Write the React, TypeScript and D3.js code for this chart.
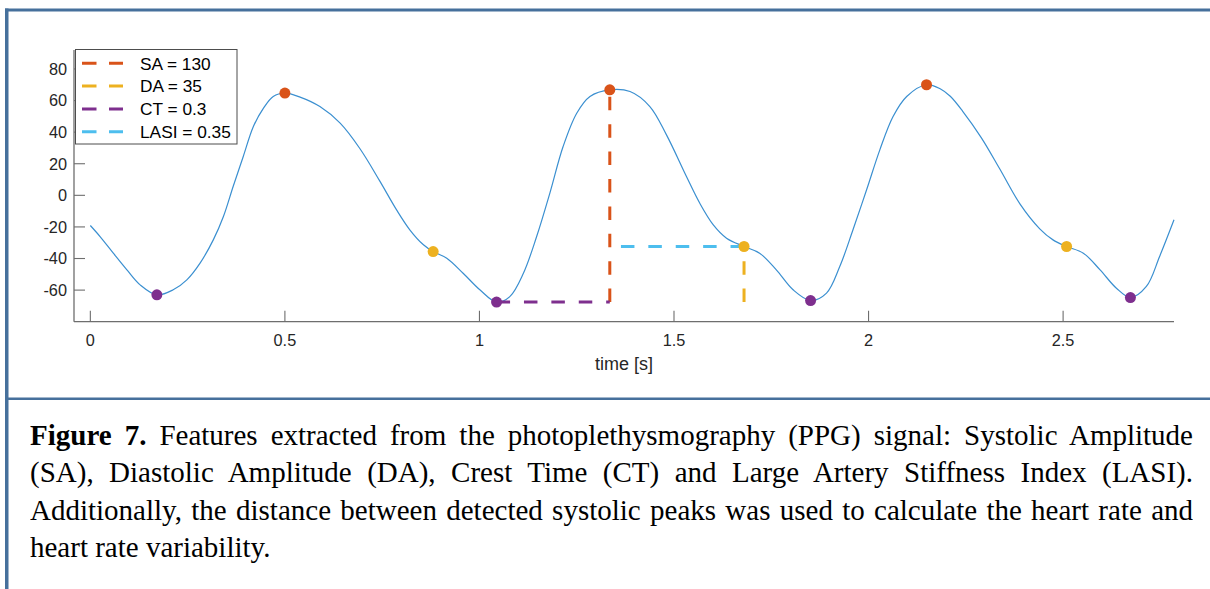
import React from 'react';
import * as d3 from 'd3';

// PPG trace (time in s, amplitude in a.u.)
const timeS = [
  0, 0.025, 0.059, 0.094, 0.128, 0.171, 0.213, 0.248, 0.282, 0.316, 0.342, 0.367, 0.393, 0.419,
  0.445, 0.47, 0.5, 0.539, 0.59, 0.642, 0.693, 0.744, 0.787, 0.821, 0.856, 0.881, 0.916, 0.958,
  1.001, 1.044, 1.078, 1.113, 1.147, 1.181, 1.215, 1.25, 1.284, 1.335, 1.387, 1.438, 1.481,
  1.532, 1.566, 1.601, 1.635, 1.68, 1.72, 1.763, 1.806, 1.851, 1.892, 1.926, 1.96, 1.995, 2.029,
  2.063, 2.098, 2.149, 2.185, 2.21, 2.242, 2.29, 2.337, 2.389, 2.44, 2.474, 2.509, 2.552, 2.595,
  2.637, 2.673, 2.714, 2.748, 2.785,
];
const ppg = [
  -19.1, -26.1, -36.6, -47.2, -56.7, -63.0, -59.8, -53.5, -42.9, -28.2, -13.4, 5.6, 24.6, 43.6,
  55.2, 62.6, 64.7, 62.2, 56.2, 45.7, 29.5, 9.0, -9.2, -21.8, -31.3, -35.6, -39.8, -49.3,
  -59.8, -67.6, -64.1, -49.3, -26.1, 1.4, 30.9, 52.0, 62.6, 66.8, 65.7, 56.2, 38.1,
  11.9, -4.9, -18.7, -27.1, -32.4, -36.6, -47.2, -59.8, -66.6, -61.9, -45.1, -21.8, 3.5, 28.8,
  49.9, 62.6, 70.0, 67.3, 62.7, 53.2, 36.4, 16.8, -5.4, -21.2, -28.2, -32.4, -36.6, -47.2,
  -58.8, -64.7, -57.7, -38.7, -15.5,
];

// Detected fiducial points
const peakT = [0.5, 1.335, 2.149];
const peakV = [64.7, 66.8, 70.0];
const diastolicT = [0.881, 1.68, 2.509];
const diastolicV = [-35.6, -32.4, -32.4];
const footT = [0.171, 1.044, 1.851, 2.673];
const footV = [-63.0, -67.6, -66.6, -64.7];

// Beat used to illustrate the features
const featureBeat = 1;

const xTicks = [0, 0.5, 1, 1.5, 2, 2.5];
const xTickLabels = ['0', '0.5', '1', '1.5', '2', '2.5'];
const yTicks = [-60, -40, -20, 0, 20, 40, 60, 80];
const yTickLabels = ['-60', '-40', '-20', '0', '20', '40', '60', '80'];
const legendLabels = ['SA = 130', 'DA = 35', 'CT = 0.3', 'LASI = 0.35'];
const xLabel = 'time [s]';

const captionLead = 'Figure 7.';
const captionLines = [
  ' Features extracted from the photoplethysmography (PPG) signal: Systolic Amplitude',
  '(SA), Diastolic Amplitude (DA), Crest Time (CT) and Large Artery Stiffness Index (LASI).',
  'Additionally, the distance between detected systolic peaks was used to calculate the heart rate and',
  'heart rate variability.',
];

const COL = {
  sa: '#D95319',
  da: '#EDB120',
  ct: '#7E2F8E',
  lasi: '#4DBEEE',
  signal: '#3a8fd0',
  axis: '#6e6e6e',
  text: '#262626',
  frame: '#46709c',
};

const W = 1210;
const H = 589;
const FONT = 'Arial, "Liberation Sans", Helvetica, sans-serif';

export default function App() {
  const x = d3.scaleLinear().domain([-0.042, 2.785]).range([74, 1174]);
  const y = d3.scaleLinear().domain([-80, 92]).range([321.7, 50]);

  const pts: [number, number][] = timeS.map((t, i) => [t, ppg[i]]);
  const line = d3
    .line<[number, number]>()
    .x((d) => x(d[0]))
    .y((d) => y(d[1]))
    .curve(d3.curveCatmullRom.alpha(0.5));

  const b = featureBeat;
  const dash = '13.5 13.9';
  const tickLen = 11;

  const legendColors = [COL.sa, COL.da, COL.ct, COL.lasi];

  return (
    <svg
      width={W}
      height={H}
      style={{ position: 'absolute', left: 0, top: 0, background: '#fff' }}
    >
      <rect x={0} y={0} width={W} height={H} fill="#fff" />
      {/* figure frame */}
      <rect x={5} y={8.5} width={W - 5} height={3} fill={COL.frame} />
      <rect x={5} y={8.5} width={3.5} height={H - 8.5} fill={COL.frame} />
      <rect x={5} y={397.5} width={W - 5} height={2.5} fill={COL.frame} />

      {/* axes */}
      <line x1={74} x2={1174} y1={321.7} y2={321.7} stroke={COL.axis} strokeWidth={1.3} />
      <line x1={74} x2={74} y1={50} y2={321.7} stroke={COL.axis} strokeWidth={1.3} />
      {xTicks.map((t, i) => (
        <g key={'xt' + i}>
          <line
            x1={x(t)}
            x2={x(t)}
            y1={321.7}
            y2={321.7 - tickLen}
            stroke={COL.axis}
            strokeWidth={1.1}
          />
          <text
            x={x(t)}
            y={345.5}
            textAnchor="middle"
            fontFamily={FONT}
            fontSize={16.3}
            fill={COL.text}
          >
            {xTickLabels[i]}
          </text>
        </g>
      ))}
      {yTicks.map((v, i) => (
        <g key={'yt' + i}>
          <line
            x1={74}
            x2={74 + tickLen}
            y1={y(v)}
            y2={y(v)}
            stroke={COL.axis}
            strokeWidth={1.1}
          />
          <text
            x={67}
            y={y(v)}
            dy="0.36em"
            textAnchor="end"
            fontFamily={FONT}
            fontSize={16.3}
            fill={COL.text}
          >
            {yTickLabels[i]}
          </text>
        </g>
      ))}
      <text
        x={624}
        y={369.5}
        textAnchor="middle"
        fontFamily={FONT}
        fontSize={18}
        fill={COL.text}
      >
        {xLabel}
      </text>

      {/* signal */}
      <path d={line(pts) || ''} fill="none" stroke={COL.signal} strokeWidth={1.2} />

      {/* feature construction lines */}
      {/* SA: foot level up to systolic peak */}
      <line
        x1={x(peakT[b])}
        x2={x(peakT[b])}
        y1={y(footV[b])}
        y2={y(peakV[b])}
        stroke={COL.sa}
        strokeWidth={3}
        strokeDasharray={dash}
      />
      {/* CT: foot to systolic peak in time */}
      <line
        x1={x(footT[b])}
        x2={x(peakT[b])}
        y1={y(footV[b])}
        y2={y(footV[b])}
        stroke={COL.ct}
        strokeWidth={3}
        strokeDasharray={dash}
      />
      {/* LASI: diastolic point back to systolic peak in time */}
      <line
        x1={x(diastolicT[b])}
        x2={x(peakT[b])}
        y1={y(diastolicV[b])}
        y2={y(diastolicV[b])}
        stroke={COL.lasi}
        strokeWidth={3}
        strokeDasharray={dash}
      />
      {/* DA: foot level up to diastolic point */}
      <line
        x1={x(diastolicT[b])}
        x2={x(diastolicT[b])}
        y1={y(footV[b])}
        y2={y(diastolicV[b])}
        stroke={COL.da}
        strokeWidth={3}
        strokeDasharray={dash}
      />

      {/* fiducial markers */}
      {footT.map((t, i) => (
        <circle key={'f' + i} cx={x(t)} cy={y(footV[i])} r={5.5} fill={COL.ct} />
      ))}
      {peakT.map((t, i) => (
        <circle key={'p' + i} cx={x(t)} cy={y(peakV[i])} r={5.5} fill={COL.sa} />
      ))}
      {diastolicT.map((t, i) => (
        <circle key={'d' + i} cx={x(t)} cy={y(diastolicV[i])} r={5.5} fill={COL.da} />
      ))}

      {/* legend */}
      <rect x={75.5} y={49.5} width={161.5} height={94.5} fill="#fff" stroke="#4d4d4d" strokeWidth={1} />
      {legendLabels.map((lab, i) => {
        const ly = 63.3 + i * 22.8;
        return (
          <g key={'lg' + i}>
            <line
              x1={82}
              x2={123}
              y1={ly}
              y2={ly}
              stroke={legendColors[i]}
              strokeWidth={3}
              strokeDasharray="14.5 12.5"
            />
            <text
              x={140}
              y={ly}
              dy="0.36em"
              fontFamily={FONT}
              fontSize={17.3}
              fill="#000"
            >
              {lab}
            </text>
          </g>
        );
      })}

      {/* caption, one justified line per row */}
      <foreignObject x={30} y={417} width={1163} height={170}>
        <div
          style={{
            fontFamily: '"Liberation Serif", "Times New Roman", serif',
            fontSize: '29px',
            lineHeight: '37.3px',
            color: '#000',
            margin: 0,
          }}
        >
          {captionLines.map((ln, i) => (
            <div
              key={'cap' + i}
              style={{
                textAlign: i < captionLines.length - 1 ? 'justify' : 'left',
                textAlignLast: i < captionLines.length - 1 ? 'justify' : 'left',
                whiteSpace: 'nowrap',
              }}
            >
              {i === 0 ? <b>{captionLead}</b> : null}
              {ln}
            </div>
          ))}
        </div>
      </foreignObject>
    </svg>
  );
}
